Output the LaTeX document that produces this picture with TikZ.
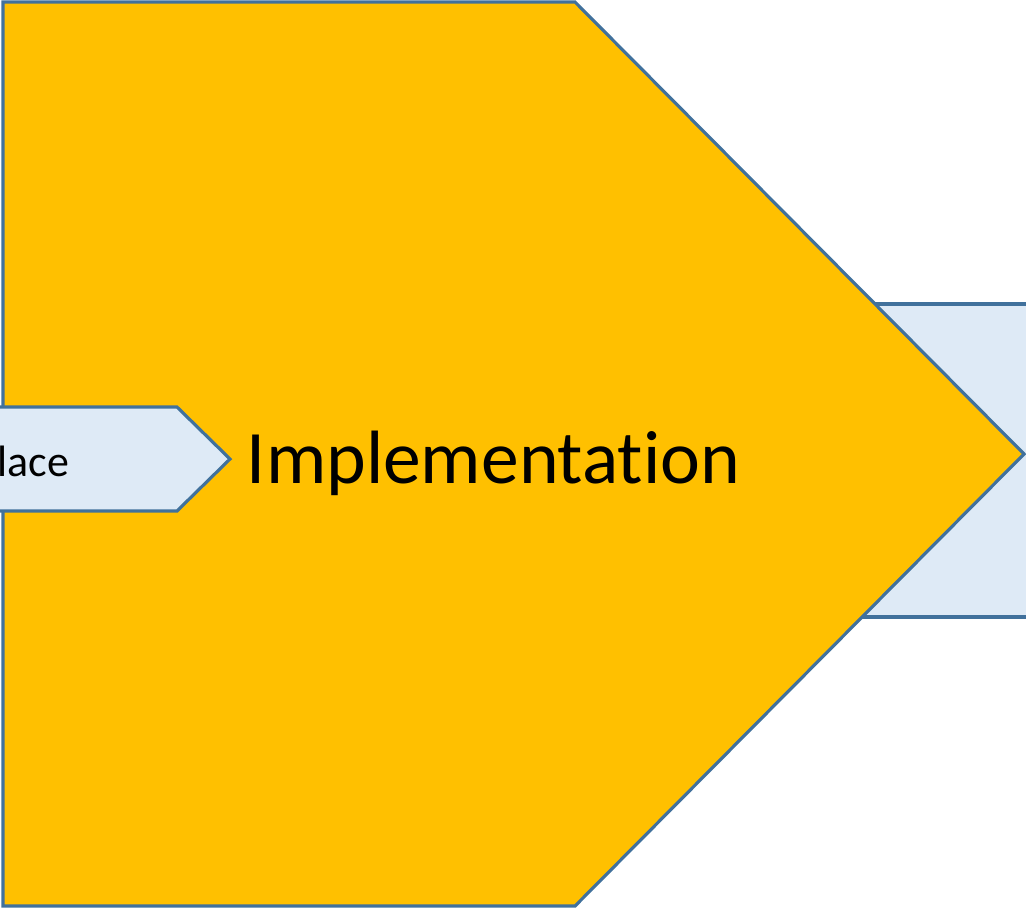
\documentclass[tikz,border=0pt]{standalone}
\usepackage{fontspec}
\setmainfont[Ligatures=NoCommon]{Carlito}
\usetikzlibrary{positioning}
\definecolor{stageyellow}{HTML}{FFC000}
\definecolor{stageblue}{HTML}{DEEAF6}
\definecolor{stageline}{HTML}{41719C}
\tikzset{
	stage/.style={draw=stageline, line width=0.9pt, line join=miter},
	stagetext/.style={inner sep=0pt, anchor=base}
}
\begin{document}
\begin{tikzpicture}
	\useasboundingbox (0,0) rectangle (10.26,9.08);
	\clip (0,0) rectangle (10.26,9.08);
	% next stage, behind
	\draw[stage, fill=stageblue] (8.5,6.04) rectangle (11.5,2.91);
	% current stage
	\draw[stage, fill=stageyellow] (0.03,9.06) -- (5.75,9.06) -- (10.24,4.54) -- (5.75,0.02) -- (0.03,0.02) -- cycle;
	% previous stage
	\draw[stage, fill=stageblue] (-1,5.01) -- (1.77,5.01) -- (2.30,4.49) -- (1.77,3.97) -- (-1,3.97) -- cycle;
	\node[stagetext, anchor=base east, font=\fontsize{12.5}{15}\selectfont] (prev) at (0.70,4.32) {lace};
	\node[stagetext, font=\fontsize{21.5}{26}\selectfont] (impl) at (4.935,4.25) {Implementation};
\end{tikzpicture}
\end{document}
